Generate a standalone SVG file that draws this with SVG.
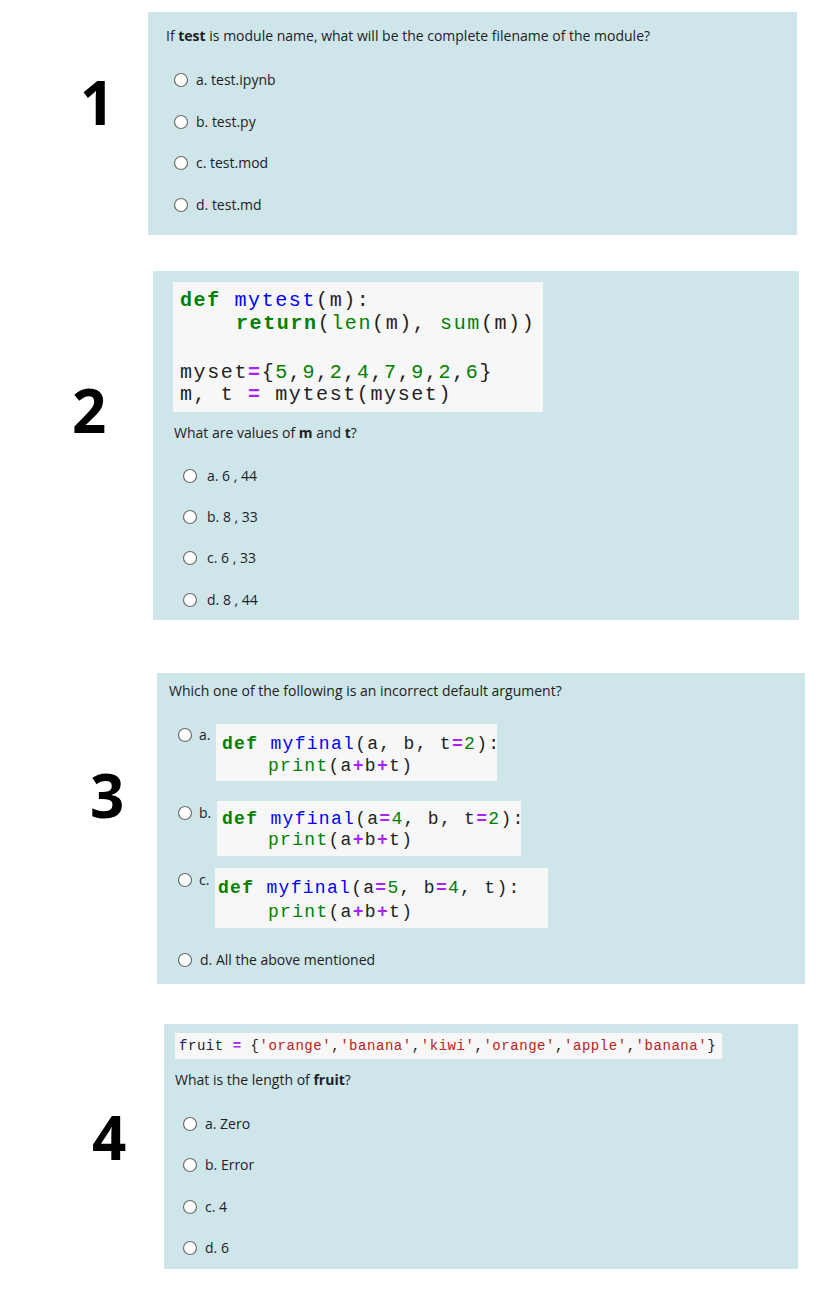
<svg xmlns="http://www.w3.org/2000/svg" width="816" height="1316" viewBox="0 0 816 1316" xml:space="preserve">
<style>
.panel{fill:#cee6e9}
.code{fill:#f7f7f7}
.t{font-family:"Open Sans","Noto Sans",sans-serif;font-size:14px;fill:#1d2125}
.num{font-family:"Open Sans","Noto Sans",sans-serif;font-size:60px;font-weight:bold;fill:#000}
.r{fill:#fff;stroke:#6d6d6d;stroke-width:1.2}
.m{font-family:"Liberation Mono",monospace;fill:#222;white-space:pre}
.c2{font-size:20px;letter-spacing:1.6px}
.c3{font-size:18px;letter-spacing:1.3px}
.c4{font-size:14px;letter-spacing:0.55px}
.kw{fill:#008000;font-weight:bold}
.fn{fill:#0000ff}
.bi{fill:#008000}
.nm{fill:#008000}
.op{fill:#aa22ff;font-weight:bold}
.st{fill:#ba2121}
</style>
<rect width="816" height="1316" fill="#fff"/>
<g id="q1">
<rect class="panel" x="148" y="12" width="649" height="223"/>
<text class="num" x="80" y="125">1</text>
<text class="t" x="166" y="41">If <tspan font-weight="bold">test</tspan> is module name, what will be the complete filename of the module?</text>
<circle class="r" cx="181" cy="80" r="6.5"/><text class="t" x="196" y="85">a. test.ipynb</text>
<circle class="r" cx="181" cy="122" r="6.5"/><text class="t" x="196" y="127">b. test.py</text>
<circle class="r" cx="181" cy="163" r="6.5"/><text class="t" x="196" y="168">c. test.mod</text>
<circle class="r" cx="181" cy="205" r="6.5"/><text class="t" x="196" y="210">d. test.md</text>
</g>
<g id="q2">
<rect class="panel" x="153" y="271" width="646" height="349"/>
<text class="num" x="72" y="433">2</text>
<rect class="code" x="173" y="282" width="370" height="130"/>
<text class="m c2" x="180" y="306"><tspan class="kw">def</tspan> <tspan class="fn">mytest</tspan>(m):</text>
<text class="m c2" x="236" y="329"><tspan class="kw">return</tspan>(<tspan class="bi">len</tspan>(m), <tspan class="bi">sum</tspan>(m))</text>
<text class="m c2" x="180" y="378">myset<tspan class="op">=</tspan>{<tspan class="nm">5</tspan>,<tspan class="nm">9</tspan>,<tspan class="nm">2</tspan>,<tspan class="nm">4</tspan>,<tspan class="nm">7</tspan>,<tspan class="nm">9</tspan>,<tspan class="nm">2</tspan>,<tspan class="nm">6</tspan>}</text>
<text class="m c2" x="180" y="400">m, t <tspan class="op">=</tspan> mytest(myset)</text>
<text class="t" x="174" y="438">What are values of <tspan font-weight="bold">m</tspan> and <tspan font-weight="bold">t</tspan>?</text>
<circle class="r" cx="190" cy="476" r="6.5"/><text class="t" x="207" y="481">a. 6 , 44</text>
<circle class="r" cx="190" cy="517" r="6.5"/><text class="t" x="207" y="522">b. 8 , 33</text>
<circle class="r" cx="190" cy="558" r="6.5"/><text class="t" x="207" y="563">c. 6 , 33</text>
<circle class="r" cx="190" cy="600" r="6.5"/><text class="t" x="207" y="605">d. 8 , 44</text>
</g>
<g id="q3">
<rect class="panel" x="157" y="673" width="648" height="311"/>
<text class="num" x="90" y="818">3</text>
<text class="t" x="169" y="696">Which one of the following is an incorrect default argument?</text>
<circle class="r" cx="185" cy="735" r="6.5"/><text class="t" x="199" y="740">a.</text>
<rect class="code" x="216" y="724" width="281" height="57"/>
<text class="m c3" x="222" y="749"><tspan class="kw">def</tspan> <tspan class="fn">myfinal</tspan>(a, b, t<tspan class="op">=</tspan><tspan class="nm">2</tspan>):</text>
<text class="m c3" x="268" y="771"><tspan class="bi">print</tspan>(a<tspan class="op">+</tspan>b<tspan class="op">+</tspan>t)</text>
<circle class="r" cx="185" cy="813" r="6.5"/><text class="t" x="199" y="818">b.</text>
<rect class="code" x="217" y="801" width="304" height="55"/>
<text class="m c3" x="222" y="824"><tspan class="kw">def</tspan> <tspan class="fn">myfinal</tspan>(a<tspan class="op">=</tspan><tspan class="nm">4</tspan>, b, t<tspan class="op">=</tspan><tspan class="nm">2</tspan>):</text>
<text class="m c3" x="268" y="845"><tspan class="bi">print</tspan>(a<tspan class="op">+</tspan>b<tspan class="op">+</tspan>t)</text>
<circle class="r" cx="185" cy="880" r="6.5"/><text class="t" x="199" y="885">c.</text>
<rect class="code" x="215" y="868" width="333" height="60"/>
<text class="m c3" x="218" y="893"><tspan class="kw">def</tspan> <tspan class="fn">myfinal</tspan>(a<tspan class="op">=</tspan><tspan class="nm">5</tspan>, b<tspan class="op">=</tspan><tspan class="nm">4</tspan>, t):</text>
<text class="m c3" x="268" y="917"><tspan class="bi">print</tspan>(a<tspan class="op">+</tspan>b<tspan class="op">+</tspan>t)</text>
<circle class="r" cx="185" cy="960" r="6.5"/><text class="t" x="200" y="965">d. All the above mentioned</text>
</g>
<g id="q4">
<rect class="panel" x="164" y="1024" width="634" height="245"/>
<text class="num" x="92" y="1160">4</text>
<rect class="code" x="175" y="1033" width="547" height="26"/>
<text class="m c4" x="179" y="1050">fruit <tspan class="op">=</tspan> {<tspan class="st">'orange'</tspan>,<tspan class="st">'banana'</tspan>,<tspan class="st">'kiwi'</tspan>,<tspan class="st">'orange'</tspan>,<tspan class="st">'apple'</tspan>,<tspan class="st">'banana'</tspan>}</text>
<text class="t" x="175" y="1085">What is the length of <tspan font-weight="bold">fruit</tspan>?</text>
<circle class="r" cx="190" cy="1124" r="6.5"/><text class="t" x="205" y="1129">a. Zero</text>
<circle class="r" cx="190" cy="1165" r="6.5"/><text class="t" x="205" y="1170">b. Error</text>
<circle class="r" cx="190" cy="1207" r="6.5"/><text class="t" x="205" y="1212">c. 4</text>
<circle class="r" cx="190" cy="1248" r="6.5"/><text class="t" x="205" y="1253">d. 6</text>
</g>
</svg>
